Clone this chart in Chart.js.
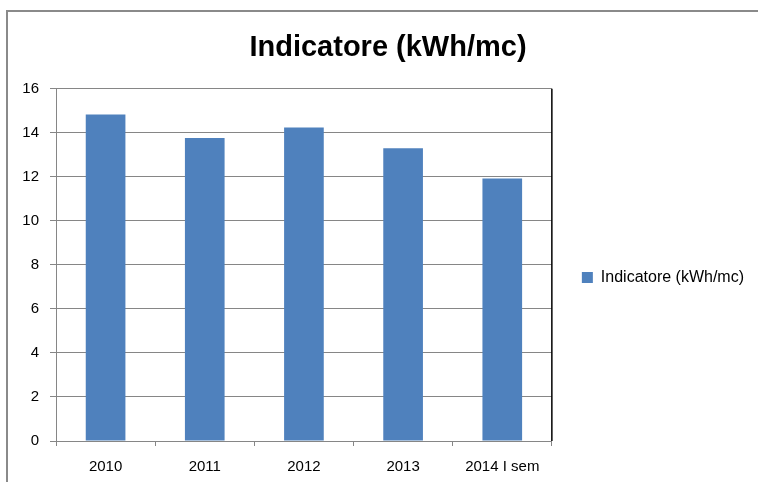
<!DOCTYPE html>
<html>
<head>
<meta charset="utf-8">
<script src="https://cdn.jsdelivr.net/npm/chart.js@4"></script>
<style>
  html, body { margin: 0; padding: 0; background: #fff; }
  #wrap { width: 758px; height: 482px; overflow: hidden; }
</style>
</head>
<body>
<div id="wrap"><canvas id="barChart" width="758" height="482"></canvas></div>
<script>
// chart data
var years = ['2010', '2011', '2012', '2013', '2014 I sem'];
var indicatore = [14.83, 13.77, 14.24, 13.30, 11.92];
var seriesName = 'Indicatore (kWh/mc)';
var chartTitle = 'Indicatore (kWh/mc)';

// outer frame of the chart object (runs off the right and bottom edge)
// plus the dark right edge of the plot area
var framePlugin = {
    id: 'frame',
    beforeDraw: function (chart) {
        var ctx = chart.ctx;
        ctx.save();
        ctx.fillStyle = '#fff';
        ctx.fillRect(0, 0, chart.width, chart.height);
        ctx.strokeStyle = '#8a8a8a';
        ctx.lineWidth = 2;
        ctx.strokeRect(7, 11, chart.width + 20, chart.height + 20);
        ctx.restore();
    },
    afterDraw: function (chart) {
        var a = chart.chartArea;
        var ctx = chart.ctx;
        ctx.save();
        ctx.strokeStyle = '#000';
        ctx.lineWidth = 1.5;
        ctx.beginPath();
        ctx.moveTo(a.right, a.top);
        ctx.lineTo(a.right, a.bottom);
        ctx.stroke();
        ctx.restore();
    }
};

Chart.defaults.font.family = "'Liberation Sans', Arial, sans-serif";
Chart.defaults.color = '#000';

var myBarChart = new Chart(document.getElementById('barChart'), {
    type: 'bar',
    data: {
        labels: years,
        datasets: [{
            label: seriesName,
            data: indicatore,
            backgroundColor: '#4F81BD',
            borderWidth: 0,
            categoryPercentage: 0.4,
            barPercentage: 1.0
        }]
    },
    options: {
        responsive: false,
        animation: false,
        // bottom padding is negative so the right legend is centred like Excel's
        layout: {
            padding: { top: 0, left: 22, right: 4, bottom: -73 }
        },
        plugins: {
            title: {
                display: true,
                text: chartTitle,
                font: { size: 29, weight: 'bold' },
                color: '#000',
                padding: { top: 31, bottom: 23 }
            },
            legend: {
                position: 'right',
                maxWidth: 400,
                labels: {
                    boxWidth: 11,
                    boxHeight: 11,
                    padding: 30,
                    font: { size: 16 },
                    color: '#000'
                }
            },
            tooltip: { enabled: false }
        },
        scales: {
            x: {
                grid: {
                    drawOnChartArea: false,
                    drawTicks: true,
                    tickLength: 5,
                    color: '#868686'
                },
                border: { color: '#868686' },
                ticks: { padding: 12, font: { size: 15 }, color: '#000' },
                afterFit: function (scale) { scale.height = 114; }
            },
            y: {
                min: 0,
                max: 16,
                ticks: { stepSize: 2, padding: 11, font: { size: 15 }, color: '#000' },
                grid: { color: '#868686', tickLength: 6 },
                border: { color: '#868686' },
                afterFit: function (scale) { scale.width = 34; }
            }
        }
    },
    plugins: [framePlugin]
});
</script>
</body>
</html>
